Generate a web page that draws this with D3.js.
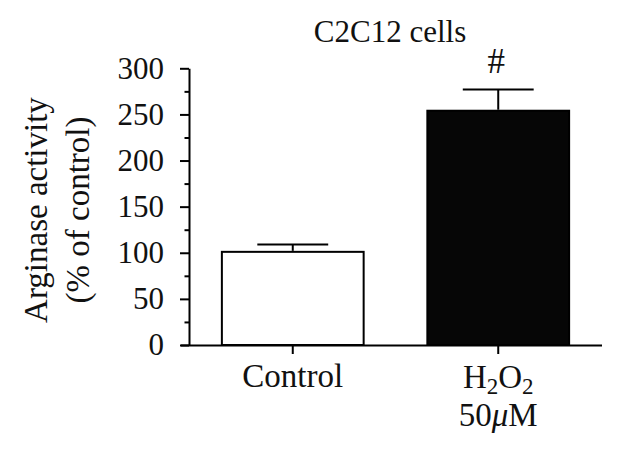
<!DOCTYPE html>
<html>
<head>
<meta charset="utf-8">
<script src="https://cdn.jsdelivr.net/npm/d3@7"></script>
<style>
  body { margin: 0; background: #fff; }
  svg { display: block; }
  text { font-family: "Liberation Serif", "Times New Roman", serif; fill: #111; }
</style>
</head>
<body id="body">
<svg></svg>
<script>
var width = 623;
var height = 455;

// data
var groups = ["Control", "H2O2"];
var means = [101, 254];
var errors = [8, 23];
var fills = ["#fff", "#060606"];
var marks = ["", "#"];
var yTicks = [0, 50, 100, 150, 200, 250, 300];
var yMinorTicks = [25, 75, 125, 175, 225, 275];

var svg = d3.select("svg")
  .attr("width", width)
  .attr("height", height);

var x = d3.scaleBand()
  .domain(groups)
  .range([189, 602])
  .paddingInner(0.31)
  .paddingOuter(0.16);

var y = d3.scaleLinear()
  .domain([0, 300])
  .range([345, 68.3]);

// title
svg.append("text")
  .attr("x", 390)
  .attr("y", 42)
  .attr("text-anchor", "middle")
  .attr("font-size", 31)
  .text("C2C12 cells");

// y axis label
var ylab = svg.append("text")
  .attr("transform", "translate(47,210) rotate(-90)")
  .attr("text-anchor", "middle")
  .attr("font-size", 33);
ylab.append("tspan").attr("x", 0).attr("y", 0).text("Arginase activity");
ylab.append("tspan").attr("x", 0).attr("y", 42).text("(% of control)");

// bars
var bars = svg.append("g").attr("class", "bars");

bars.selectAll("rect")
  .data(groups)
  .enter().append("rect")
  .attr("x", function (d) { return x(d); })
  .attr("y", function (d, i) { return y(means[i]); })
  .attr("width", x.bandwidth())
  .attr("height", function (d, i) { return y(0) - y(means[i]); })
  .attr("fill", function (d, i) { return fills[i]; })
  .attr("stroke", "#000")
  .attr("stroke-width", 2);

// error bars (upper only)
var err = svg.append("g").attr("class", "errors")
  .attr("stroke", "#000")
  .attr("stroke-width", 2);

err.selectAll("line.stem")
  .data(groups)
  .enter().append("line")
  .attr("class", "stem")
  .attr("x1", function (d) { return x(d) + x.bandwidth() / 2; })
  .attr("x2", function (d) { return x(d) + x.bandwidth() / 2; })
  .attr("y1", function (d, i) { return y(means[i]) - 1; })
  .attr("y2", function (d, i) { return y(means[i] + errors[i]); });

err.selectAll("line.cap")
  .data(groups)
  .enter().append("line")
  .attr("class", "cap")
  .attr("x1", function (d) { return x(d) + x.bandwidth() / 4; })
  .attr("x2", function (d) { return x(d) + x.bandwidth() * 3 / 4; })
  .attr("y1", function (d, i) { return y(means[i] + errors[i]); })
  .attr("y2", function (d, i) { return y(means[i] + errors[i]); });

// significance marks
svg.append("g").selectAll("text")
  .data(groups)
  .enter().append("text")
  .attr("x", function (d) { return x(d) + x.bandwidth() / 2 - 2; })
  .attr("y", function (d, i) { return y(means[i] + errors[i]) - 17; })
  .attr("text-anchor", "middle")
  .attr("font-size", 35)
  .text(function (d, i) { return marks[i]; });

// y axis
var yAxis = svg.append("g")
  .attr("transform", "translate(189,0)")
  .call(d3.axisLeft(y).tickValues(yTicks).tickSize(9).tickPadding(16).tickSizeOuter(0));

svg.append("g")
  .attr("transform", "translate(189,0)")
  .call(d3.axisLeft(y).tickValues(yMinorTicks).tickSize(4.5).tickFormat("").tickSizeOuter(0))
  .select(".domain").remove();

yAxis.selectAll("text")
  .attr("font-size", 31)
  .attr("fill", "#111")
  .attr("font-family", "Liberation Serif, serif");

// x axis
var xAxis = svg.append("g")
  .attr("transform", "translate(0,345)")
  .call(d3.axisBottom(x).tickSize(9).tickSizeOuter(0).tickFormat(""));

xAxis.select(".domain").attr("d", "M181,0.5H602");

svg.selectAll(".domain, .tick line")
  .attr("stroke", "#000")
  .attr("stroke-width", 2);

// category labels
var cx = function (d) { return x(d) + x.bandwidth() / 2; };

svg.append("text")
  .attr("x", cx("Control"))
  .attr("y", 387)
  .attr("text-anchor", "middle")
  .attr("font-size", 33)
  .text("Control");

var h2o2 = svg.append("text")
  .attr("x", cx("H2O2"))
  .attr("y", 388)
  .attr("text-anchor", "middle")
  .attr("font-size", 33);
h2o2.append("tspan").text("H");
h2o2.append("tspan").attr("font-size", 23).attr("dy", 6).text("2");
h2o2.append("tspan").attr("dy", -6).text("O");
h2o2.append("tspan").attr("font-size", 23).attr("dy", 6).text("2");

var conc = svg.append("text")
  .attr("x", cx("H2O2"))
  .attr("y", 426)
  .attr("text-anchor", "middle")
  .attr("font-size", 33);
conc.append("tspan").text("50");
conc.append("tspan").attr("font-style", "italic").text("\u03bc");
conc.append("tspan").text("M");
</script>
</body>
</html>
